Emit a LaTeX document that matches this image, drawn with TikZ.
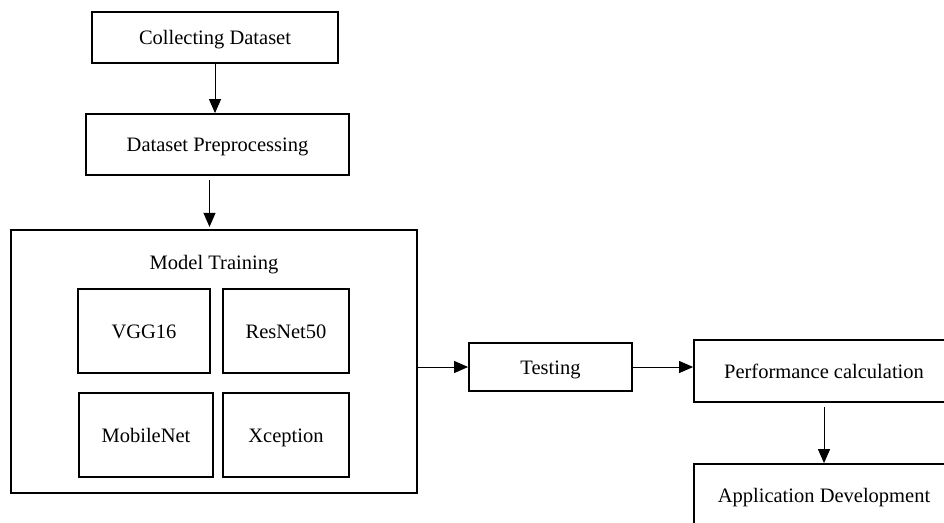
\documentclass[tikz,border=0pt]{standalone}
\usepackage{fontspec}
\setmainfont{Liberation Serif}
\usepackage{tikz}
\usetikzlibrary{arrows.meta, positioning}

\tikzset{
  block/.style={draw, line width=1.8pt, align=center, inner sep=0pt,
    text height=18pt, text depth=4pt,
    font=\fontsize{20.5}{24}\selectfont},
  flow/.style={-{Triangle[width=12pt,length=14pt]}, line width=1pt}
}

\begin{document}
\begin{tikzpicture}[x=1pt, y=-1pt, on grid]
    \clip (0,0) rectangle (944,522);
			\node[block, minimum width=246pt, minimum height=51pt] (collect) at (215,37.5) {Collecting Dataset};
			\node[block, minimum width=263pt, minimum height=61pt] (prep) at (217.5,144.5) {Dataset Preprocessing};
			\node[block, minimum width=406pt, minimum height=263pt] (model) at (214,361.5) {};
			\node[font=\fontsize{20.5}{24}\selectfont, below=23pt of model.north] (modeltitle) {Model Training};
			% the four networks
			\node[block, minimum width=132pt, minimum height=84pt] (vgg) at (144,331) {VGG16};
			\node[block, minimum width=126pt, minimum height=84pt, right=142pt of vgg] (resnet) {ResNet50};
			\node[block, minimum width=134pt, minimum height=84pt, below=104pt of vgg, xshift=2pt] (mobile) {MobileNet};
			\node[block, minimum width=126pt, minimum height=84pt, below=104pt of resnet] (xcept) {Xception};
			\node[block, minimum width=163pt, minimum height=48pt] (test) at (550.5,367) {Testing};
			\node[block, minimum width=260pt, minimum height=62pt] (perf) at (824,371) {Performance calculation};
			\node[block, minimum width=260pt, minimum height=62pt, below=124pt of perf] (app) {Application Development};
			\draw[flow] (collect.south) -- (collect.south |- prep.north);
			\draw[flow, shorten <=4pt] (prep.south) ++(-8pt,0) -- ++(0,51);
			\draw[flow] (test.west -| model.east) -- (test.west);
			\draw[flow] (test.east) -- (test.east -| perf.west);
			\draw[flow, shorten <=4pt] (perf.south) -- (app.north);
\end{tikzpicture}
\end{document}
